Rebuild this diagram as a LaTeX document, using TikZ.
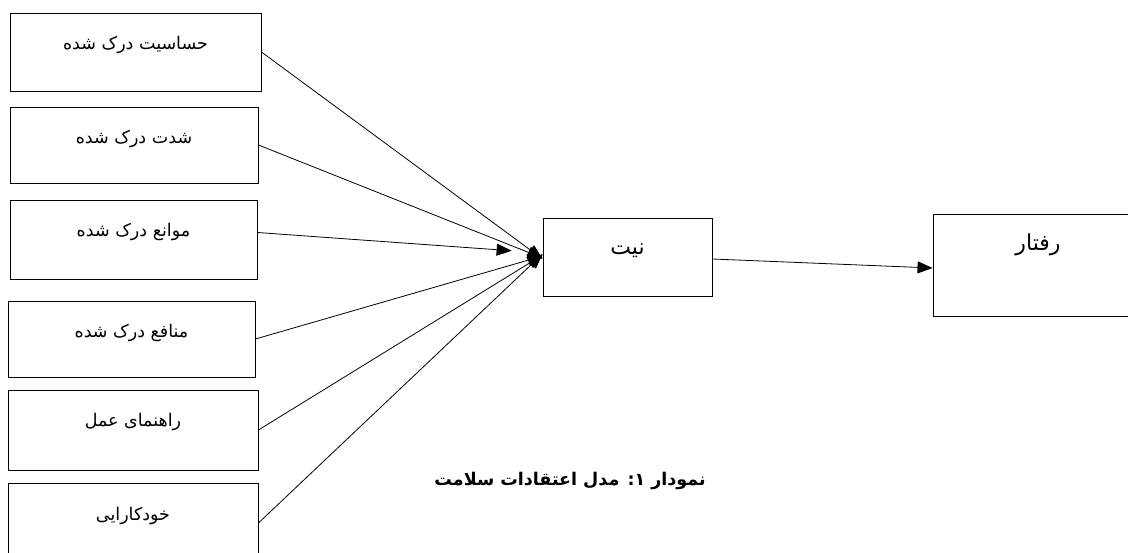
\documentclass[tikz,border=0pt]{standalone}
\usepackage{fontspec}
\usetikzlibrary{arrows.meta}
\TeXXeTstate=1
\newfontfamily\arabicfont[Script=Arabic]{DejaVu Sans}

\begin{document}
\begin{tikzpicture}[x=1pt, y=-1pt]
	\tikzset{boite/.style={draw=black, line width=0.9pt, inner sep=0pt, text height=37pt, font=\arabicfont\fontsize{17.5}{19}\selectfont},
	fleche/.style={line width=0.8pt, -{Triangle[length=15pt, width=12pt]}}};
	\useasboundingbox (0,0) rectangle (1128,553);

	\foreach \name/\x/\y/\w/\h/\d/\texte in {b1/135.5/52/251/78/41/حساسیت درک شده, b2/134/145/248/76/39/شدت درک شده, b3/133.5/239.5/247/79/42/موانع درک شده, b4/131.5/339/247/76/39/منافع درک شده, b5/133/430/250/80/43/راهنمای عمل, b6/133/523/250/80/43/خودکارایی}{
		\node[boite, minimum width=\w pt, text depth=\d pt] (\name) at (\x, \y) {\beginR\texte\endR};
	}

	\node[boite, minimum width=169pt, text depth=41pt, font=\arabicfont\fontsize{22}{24}\selectfont] (nit) at (627.5, 257) {\beginR نیت\endR};
	\node[boite, minimum width=210pt, text depth=65pt, font=\arabicfont\fontsize{22}{24}\selectfont] (raftar) at (1038, 265) {\beginR رفتار\endR};
	\node[font=\arabicfont\bfseries\fontsize{17.5}{20}\selectfont] (titre) at (570, 481) {\beginR نمودار ۱: مدل اعتقادات سلامت\endR};

	\draw[fleche] (b1.east) -- ([yshift=-2pt]nit.west);
	\draw[fleche] (b2.east) -- ([yshift=-1pt]nit.west);
	\draw[fleche, shorten >=31pt] ([yshift=7pt]b3.east) -- ([yshift=4pt]nit.west);
	\draw[fleche] (b4.east) -- ([yshift=1pt]nit.west);
	\draw[fleche] (b5.east) -- ([yshift=2pt]nit.west);
	\draw[fleche] (b6.east) -- ([yshift=3pt]nit.west);
	\draw[fleche] ([yshift=-2pt]nit.east) -- ([yshift=-3pt]raftar.west);

\end{tikzpicture}
\end{document}
